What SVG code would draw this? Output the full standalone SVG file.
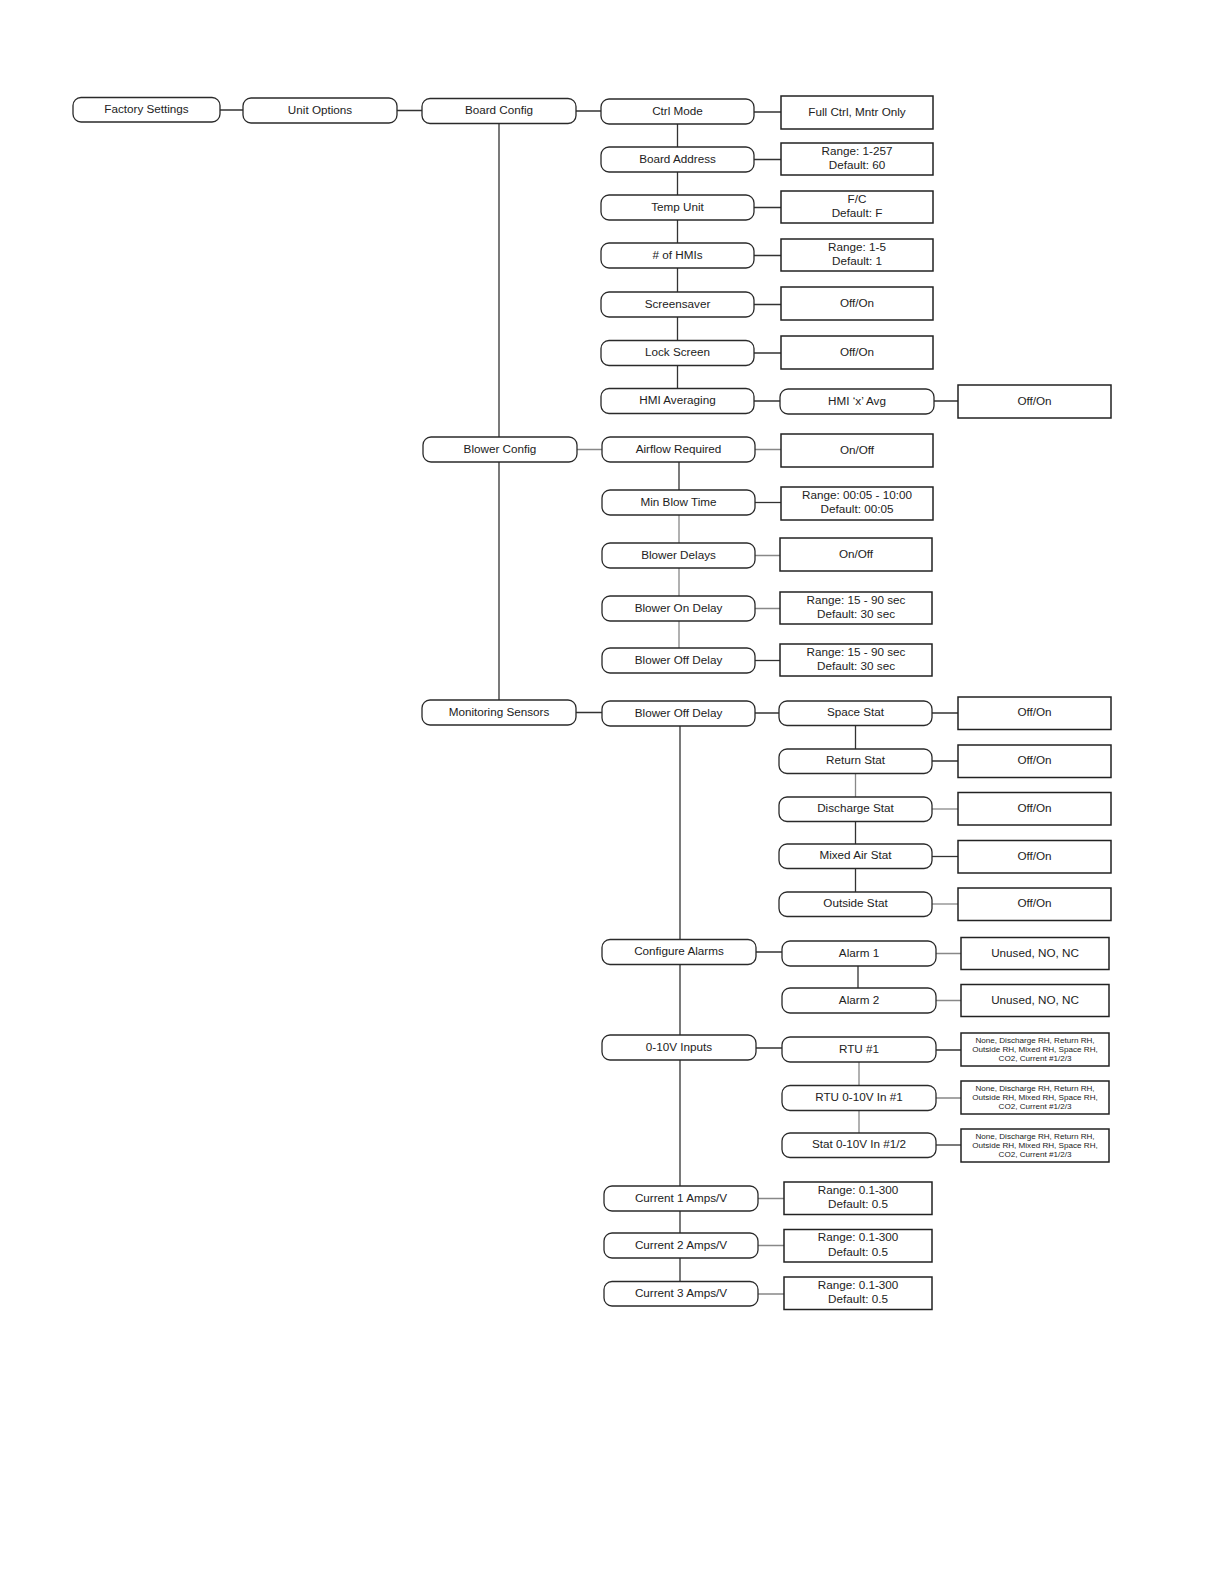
<svg xmlns="http://www.w3.org/2000/svg" width="1224" height="1584" viewBox="0 0 1224 1584">
<style>
.n{fill:#fff;stroke:#2a2a2a;stroke-width:1.3}
.b{fill:#fff;stroke:#222;stroke-width:1.5}
.c{fill:none;stroke:#333;stroke-width:1.3}
.g{fill:none;stroke:#888;stroke-width:1.3}
text{font-family:"Liberation Sans",Arial,sans-serif;font-size:11.7px;text-anchor:middle;fill:#222;transform:translateY(-1px)}
.s{font-size:8.1px}
</style>
<rect width="1224" height="1584" fill="#fff"/>
<g id="connectors">
<path class="c" d="M220 110H243M397 110.5H422M576 111H601"/>
<path class="c" d="M499 123.5V437M499 462V700"/>
<path class="c" d="M677.5 124V388.5"/>
<path class="c" d="M754 112H781M754 159.5H781M754 207.5H781M754 255.5H781M754 304.5H781M754 353H781M754 401H780M934 401H958"/>
<path class="g" d="M577 449.5H602M755 449.5H781"/>
<path class="c" d="M679 462V490"/>
<path class="g" d="M679 515V596M679 621V648"/>
<path class="c" d="M755 502.5H781"/>
<path class="g" d="M755 555.5H781M755 608.5H781"/>
<path class="c" d="M755 660.5H781"/>
<path class="c" d="M576 712.5H602M755 713H779M680 726V1281.5"/>
<path class="c" d="M855.5 725.5V749"/>
<path class="g" d="M855.5 773.5V797"/>
<path class="c" d="M855.5 821.5V892"/>
<path class="c" d="M932 713H958M932 761H958"/>
<path class="g" d="M932 809H958"/>
<path class="c" d="M932 856.5H958"/>
<path class="g" d="M932 904H958"/>
<path class="c" d="M756 952H782M858 966V988"/>
<path class="g" d="M936 953.5H961M936 1000.5H961"/>
<path class="c" d="M756 1048H782M936 1050H961"/>
<path class="g" d="M859 1062V1133M936 1098H961"/>
<path class="c" d="M936 1145H961"/>
<path class="g" d="M758 1198.5H784M758 1245.5H784M758 1294H784"/>
</g>
<g id="factory-settings"><rect class="n" x="73" y="97.5" width="147" height="24.5" rx="8"/><text x="146.5" y="113.7">Factory Settings</text></g>
<g id="unit-options"><rect class="n" x="243" y="98" width="154" height="25" rx="8"/><text x="320" y="114.5">Unit Options</text></g>
<g id="board-config"><rect class="n" x="422" y="98.5" width="154" height="25" rx="8"/><text x="499" y="115">Board Config</text></g>

<g id="ctrl-mode"><rect class="n" x="601" y="99" width="153" height="25" rx="8"/><text x="677.5" y="115.5">Ctrl Mode</text></g>
<g id="ctrl-mode-val"><rect class="b" x="781" y="96" width="152" height="33"/><text x="857" y="116.5">Full Ctrl, Mntr Only</text></g>
<g id="board-address"><rect class="n" x="601" y="147" width="153" height="25" rx="8"/><text x="677.5" y="163.5">Board Address</text></g>
<g id="board-address-val"><rect class="b" x="781" y="143" width="152" height="32"/><text x="857" y="155.5">Range: 1-257</text><text x="857" y="170">Default: 60</text></g>
<g id="temp-unit"><rect class="n" x="601" y="195" width="153" height="25" rx="8"/><text x="677.5" y="211.5">Temp Unit</text></g>
<g id="temp-unit-val"><rect class="b" x="781" y="191" width="152" height="32"/><text x="857" y="203.5">F/C</text><text x="857" y="218">Default: F</text></g>
<g id="num-hmis"><rect class="n" x="601" y="243" width="153" height="25" rx="8"/><text x="677.5" y="259.5"># of HMIs</text></g>
<g id="num-hmis-val"><rect class="b" x="781" y="239" width="152" height="32"/><text x="857" y="251.5">Range: 1-5</text><text x="857" y="266">Default: 1</text></g>
<g id="screensaver"><rect class="n" x="601" y="292" width="153" height="25" rx="8"/><text x="677.5" y="308.5">Screensaver</text></g>
<g id="screensaver-val"><rect class="b" x="781" y="287" width="152" height="33"/><text x="857" y="307.5">Off/On</text></g>
<g id="lock-screen"><rect class="n" x="601" y="340.5" width="153" height="25" rx="8"/><text x="677.5" y="357">Lock Screen</text></g>
<g id="lock-screen-val"><rect class="b" x="781" y="336" width="152" height="33"/><text x="857" y="356.5">Off/On</text></g>
<g id="hmi-averaging"><rect class="n" x="601" y="388.5" width="153" height="25" rx="8"/><text x="677.5" y="405">HMI Averaging</text></g>
<g id="hmi-x-avg"><rect class="n" x="780" y="389" width="154" height="25" rx="8"/><text x="857" y="405.5">HMI ‘x’ Avg</text></g>
<g id="hmi-x-avg-val"><rect class="b" x="958" y="385" width="153" height="33"/><text x="1034.5" y="405.5">Off/On</text></g>

<g id="blower-config"><rect class="n" x="423" y="437" width="154" height="25" rx="8"/><text x="500" y="453.5">Blower Config</text></g>
<g id="airflow-required"><rect class="n" x="602" y="437" width="153" height="25" rx="8"/><text x="678.5" y="453.5">Airflow Required</text></g>
<g id="airflow-required-val"><rect class="b" x="781" y="434" width="152" height="33"/><text x="857" y="454.5">On/Off</text></g>
<g id="min-blow-time"><rect class="n" x="602" y="490" width="153" height="25" rx="8"/><text x="678.5" y="506.5">Min Blow Time</text></g>
<g id="min-blow-time-val"><rect class="b" x="781" y="487" width="152" height="33"/><text x="857" y="499.5">Range: 00:05 - 10:00</text><text x="857" y="514">Default: 00:05</text></g>
<g id="blower-delays"><rect class="n" x="602" y="543" width="153" height="25" rx="8"/><text x="678.5" y="559.5">Blower Delays</text></g>
<g id="blower-delays-val"><rect class="b" x="780" y="538" width="152" height="33"/><text x="856" y="558.5">On/Off</text></g>
<g id="blower-on-delay"><rect class="n" x="602" y="596" width="153" height="25" rx="8"/><text x="678.5" y="612.5">Blower On Delay</text></g>
<g id="blower-on-delay-val"><rect class="b" x="780" y="592" width="152" height="32"/><text x="856" y="604.5">Range: 15 - 90 sec</text><text x="856" y="619">Default: 30 sec</text></g>
<g id="blower-off-delay"><rect class="n" x="602" y="648" width="153" height="25" rx="8"/><text x="678.5" y="664.5">Blower Off Delay</text></g>
<g id="blower-off-delay-val"><rect class="b" x="780" y="644" width="152" height="32"/><text x="856" y="656.5">Range: 15 - 90 sec</text><text x="856" y="671">Default: 30 sec</text></g>

<g id="monitoring-sensors"><rect class="n" x="422" y="700" width="154" height="25" rx="8"/><text x="499" y="716.5">Monitoring Sensors</text></g>
<g id="blower-off-delay-2"><rect class="n" x="602" y="701" width="153" height="25" rx="8"/><text x="678.5" y="717.5">Blower Off Delay</text></g>
<g id="space-stat"><rect class="n" x="779" y="701" width="153" height="24.5" rx="8"/><text x="855.5" y="717.3">Space Stat</text></g>
<g id="space-stat-val"><rect class="b" x="958" y="697" width="153" height="32.5"/><text x="1034.5" y="717.3">Off/On</text></g>
<g id="return-stat"><rect class="n" x="779" y="749" width="153" height="24.5" rx="8"/><text x="855.5" y="765.3">Return Stat</text></g>
<g id="return-stat-val"><rect class="b" x="958" y="745" width="153" height="32.5"/><text x="1034.5" y="765.3">Off/On</text></g>
<g id="discharge-stat"><rect class="n" x="779" y="797" width="153" height="24.5" rx="8"/><text x="855.5" y="813.3">Discharge Stat</text></g>
<g id="discharge-stat-val"><rect class="b" x="958" y="792.5" width="153" height="32.5"/><text x="1034.5" y="812.8">Off/On</text></g>
<g id="mixed-air-stat"><rect class="n" x="779" y="844" width="153" height="24.5" rx="8"/><text x="855.5" y="860.3">Mixed Air Stat</text></g>
<g id="mixed-air-stat-val"><rect class="b" x="958" y="840.5" width="153" height="32.5"/><text x="1034.5" y="860.8">Off/On</text></g>
<g id="outside-stat"><rect class="n" x="779" y="892" width="153" height="24.5" rx="8"/><text x="855.5" y="908.3">Outside Stat</text></g>
<g id="outside-stat-val"><rect class="b" x="958" y="888" width="153" height="32.5"/><text x="1034.5" y="908.3">Off/On</text></g>

<g id="configure-alarms"><rect class="n" x="602" y="939.5" width="154" height="25" rx="8"/><text x="679" y="956">Configure Alarms</text></g>
<g id="alarm-1"><rect class="n" x="782" y="941" width="154" height="25" rx="8"/><text x="859" y="957.5">Alarm 1</text></g>
<g id="alarm-1-val"><rect class="b" x="961" y="937.5" width="148" height="32"/><text x="1035" y="957.5">Unused, NO, NC</text></g>
<g id="alarm-2"><rect class="n" x="782" y="988" width="154" height="25" rx="8"/><text x="859" y="1004.5">Alarm 2</text></g>
<g id="alarm-2-val"><rect class="b" x="961" y="984.5" width="148" height="32"/><text x="1035" y="1004.5">Unused, NO, NC</text></g>

<g id="inputs-0-10v"><rect class="n" x="602" y="1035" width="154" height="25" rx="8"/><text x="679" y="1051.5">0-10V Inputs</text></g>
<g id="rtu-1"><rect class="n" x="782" y="1037" width="154" height="25" rx="8"/><text x="859" y="1053.5">RTU #1</text></g>
<g id="rtu-1-val"><rect class="b" x="961" y="1033" width="148" height="33"/><text class="s" x="1035" y="1043.5">None, Discharge RH, Return RH,</text><text class="s" x="1035" y="1052.8">Outside RH, Mixed RH, Space RH,</text><text class="s" x="1035" y="1062">CO2, Current #1/2/3</text></g>
<g id="rtu-0-10v-in-1"><rect class="n" x="782" y="1085.5" width="154" height="25" rx="8"/><text x="859" y="1102">RTU 0-10V In #1</text></g>
<g id="rtu-0-10v-in-1-val"><rect class="b" x="961" y="1081" width="148" height="33"/><text class="s" x="1035" y="1091.5">None, Discharge RH, Return RH,</text><text class="s" x="1035" y="1100.8">Outside RH, Mixed RH, Space RH,</text><text class="s" x="1035" y="1110">CO2, Current #1/2/3</text></g>
<g id="stat-0-10v-in"><rect class="n" x="782" y="1133" width="154" height="24.5" rx="8"/><text x="859" y="1149.3">Stat 0-10V In #1/2</text></g>
<g id="stat-0-10v-in-val"><rect class="b" x="961" y="1129" width="148" height="33"/><text class="s" x="1035" y="1139.5">None, Discharge RH, Return RH,</text><text class="s" x="1035" y="1148.8">Outside RH, Mixed RH, Space RH,</text><text class="s" x="1035" y="1158">CO2, Current #1/2/3</text></g>

<g id="current-1"><rect class="n" x="604" y="1186" width="154" height="25" rx="8"/><text x="681" y="1202.5">Current 1 Amps/V</text></g>
<g id="current-1-val"><rect class="b" x="784" y="1182" width="148" height="32.5"/><text x="858" y="1194.5">Range: 0.1-300</text><text x="858" y="1209">Default: 0.5</text></g>
<g id="current-2"><rect class="n" x="604" y="1233" width="154" height="25" rx="8"/><text x="681" y="1249.5">Current 2 Amps/V</text></g>
<g id="current-2-val"><rect class="b" x="784" y="1229.5" width="148" height="32.5"/><text x="858" y="1242">Range: 0.1-300</text><text x="858" y="1256.5">Default: 0.5</text></g>
<g id="current-3"><rect class="n" x="604" y="1281.5" width="154" height="24.5" rx="8"/><text x="681" y="1297.8">Current 3 Amps/V</text></g>
<g id="current-3-val"><rect class="b" x="784" y="1277" width="148" height="32.5"/><text x="858" y="1289.5">Range: 0.1-300</text><text x="858" y="1304">Default: 0.5</text></g>
</svg>
